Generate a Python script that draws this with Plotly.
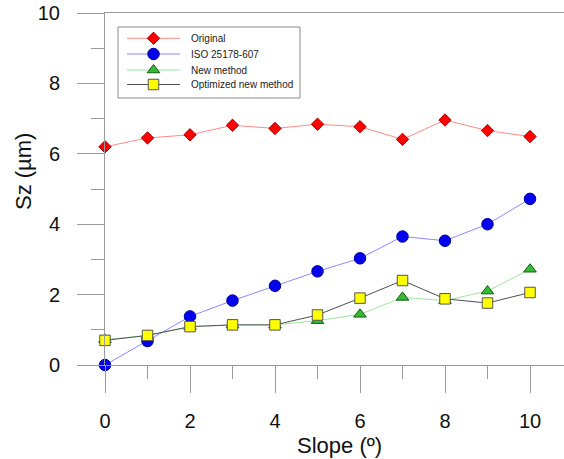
import plotly.graph_objects as go

# Slope angle (degrees)
slope = [0, 1, 2, 3, 4, 5, 6, 7, 8, 9, 10]

# Sz values (µm) for each method
sz_original = [6.20, 6.45, 6.54, 6.81, 6.72, 6.84, 6.77, 6.41, 6.96, 6.66, 6.49]
sz_iso = [0.00, 0.68, 1.38, 1.83, 2.25, 2.66, 3.03, 3.65, 3.53, 4.00, 4.72]
sz_new = [0.72, 0.84, 1.09, 1.14, 1.14, 1.26, 1.44, 1.92, 1.83, 2.10, 2.72]
sz_optimized = [0.70, 0.84, 1.09, 1.14, 1.14, 1.42, 1.90, 2.40, 1.88, 1.76, 2.06]

series_names = ["Original", "ISO 25178-607", "New method", "Optimized new method"]

FONT = "Arial, Liberation Sans, sans-serif"
AXIS_GRAY = "#9a9a9a"

# plot-area box in pixels (left, right, top, bottom)
PL, PR, PT, PB = 105, 564, 13, 365

styles = [
    (sz_original, "#ff8a8a", "diamond", 9.5, "#ff0000", "#b00000"),
    (sz_iso, "#8a8aff", "circle", 11.5, "#0000ee", "#000099"),
    (sz_new, "#9fe39f", "triangle-up", 11, "#33bb33", "#1a5a1a"),
    (sz_optimized, "#505050", "square", 10.5, "#ffff00", "#555555"),
]

fig = go.Figure()

for name, (vals, lcol, sym, size, fill, edge) in zip(series_names, styles):
    fig.add_trace(go.Scatter(
        x=slope, y=vals, name=name, mode="lines+markers",
        line=dict(color=lcol, width=1),
        marker=dict(symbol=sym, size=size, color=fill, line=dict(color=edge, width=1)),
        cliponaxis=False, showlegend=False,
    ))

# Legend drawn on an overlay axis measured in pixels
leg_rows = [38.3, 54, 70, 84.5]
for name, row, (vals, lcol, sym, size, fill, edge) in zip(series_names, leg_rows, styles):
    fig.add_trace(go.Scatter(
        x=[127, 180], y=[row, row], mode="lines", xaxis="x2", yaxis="y2",
        line=dict(color=lcol, width=1), showlegend=False, hoverinfo="skip",
    ))
    fig.add_trace(go.Scatter(
        x=[153.5], y=[row], mode="markers", xaxis="x2", yaxis="y2",
        marker=dict(symbol=sym, size=size, color=fill, line=dict(color=edge, width=1)),
        showlegend=False, hoverinfo="skip",
    ))

legend_text = [
    dict(text=name, xref="x2", yref="y2", x=189, y=row,
         xanchor="left", yanchor="middle", showarrow=False,
         font=dict(family=FONT, size=10, color="#222222"))
    for name, row in zip(series_names, leg_rows)
]

fig.update_layout(
    width=564, height=459,
    margin=dict(l=PL, r=564 - PR, t=PT, b=459 - PB),
    paper_bgcolor="white", plot_bgcolor="white",
    font=dict(family=FONT, size=20, color="#111111"),
    showlegend=False,
    xaxis=dict(
        range=[0, 10.8], dtick=2, tick0=0,
        showgrid=False, zeroline=False,
        showline=True, linecolor=AXIS_GRAY, linewidth=1, mirror=True,
        ticks="outside", ticklen=27, tickcolor=AXIS_GRAY, tickwidth=1,
        ticklabelstandoff=11,
        minor=dict(dtick=1, tick0=0, ticks="outside", ticklen=13,
                   tickcolor=AXIS_GRAY, tickwidth=1, showgrid=False),
    ),
    yaxis=dict(
        range=[0, 10], dtick=2, tick0=0,
        showgrid=False, zeroline=False,
        showline=True, linecolor=AXIS_GRAY, linewidth=1,
        ticks="outside", ticklen=27, tickcolor=AXIS_GRAY, tickwidth=1,
        ticklabelstandoff=13,
        minor=dict(dtick=1, tick0=0, ticks="outside", ticklen=13,
                   tickcolor=AXIS_GRAY, tickwidth=1, showgrid=False),
    ),
    xaxis2=dict(range=[PL, PR], overlaying="x", visible=False, fixedrange=True),
    yaxis2=dict(range=[PB, PT], overlaying="y", visible=False, fixedrange=True),
    shapes=[
        dict(type="rect", xref="x2", yref="y2", x0=118, x1=300, y0=27, y1=98,
             line=dict(color="#8a8a8a", width=1), fillcolor="white", layer="below"),
    ],
    annotations=legend_text + [
        dict(text="Slope (º)", xref="paper", yref="paper",
             x=(339 - PL) / (PR - PL), y=-(446 - PB) / (PB - PT),
             xanchor="center", yanchor="middle", showarrow=False,
             font=dict(family=FONT, size=22, color="#111111")),
        dict(text="Sz (µm)", xref="paper", yref="paper",
             x=-(PL - 23) / (PR - PL), y=(PB - 172) / (PB - PT),
             xanchor="center", yanchor="middle", showarrow=False, textangle=-90,
             font=dict(family=FONT, size=22, color="#111111")),
    ],
)

fig.write_html("out.html")
